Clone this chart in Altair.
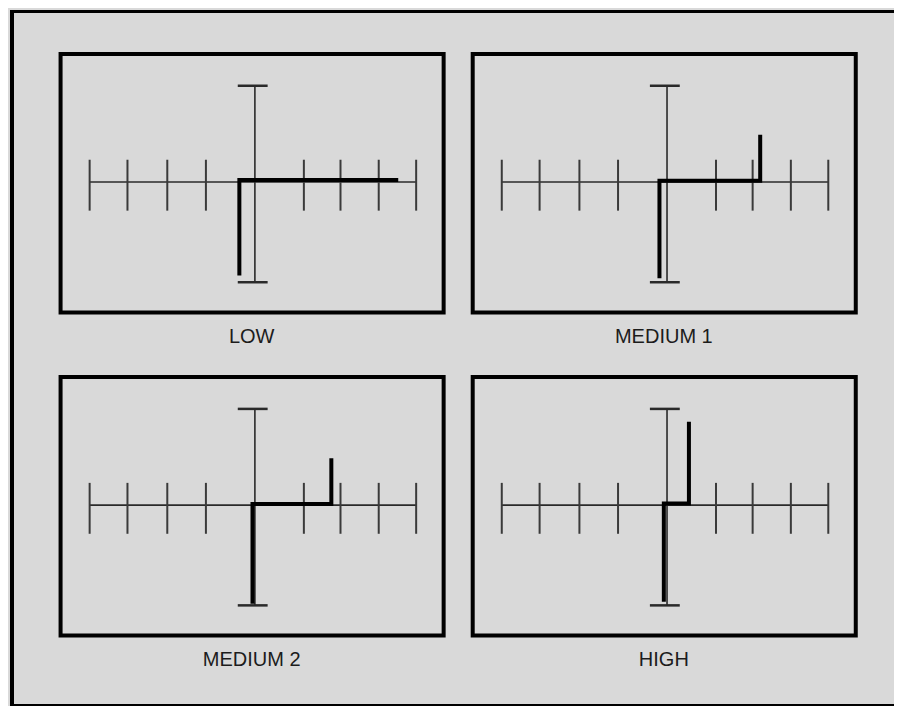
import altair as alt
import pandas as pd

# ---- data (local units of each screen: 0,0 = axis crossing) ----
panels = ["LOW", "MEDIUM 1", "MEDIUM 2", "HIGH"]
panel_col = [0, 1, 0, 1]
panel_row = [0, 0, 1, 1]

tick_x = [-4.15, -3.2, -2.2, -1.23, 1.23, 2.15, 3.11, 4.05]
tick_span = [-0.72, 0.56]
haxis_x = [-4.15, 4.05]
vaxis_y = [-2.52, 2.42]
cap_x = [-0.43, 0.32]
frame_x = [-4.88, 4.74]
frame_y = [-3.28, 3.22]
label_y = -3.9

trace_x = {
    "LOW": [-0.39, -0.39, 3.6],
    "MEDIUM 1": [-0.19, -0.19, 2.34, 2.34],
    "MEDIUM 2": [-0.06, -0.06, 1.92, 1.92],
    "HIGH": [-0.08, -0.08, 0.55, 0.55],
}
trace_y = {
    "LOW": [-2.35, 0.05, 0.05],
    "MEDIUM 1": [-2.42, 0.03, 0.03, 1.19],
    "MEDIUM 2": [-2.48, 0.03, 0.03, 1.18],
    "HIGH": [-2.43, 0.04, 0.04, 2.1],
}

# ---- layout constants ----
COL_STEP = 10.35
ROW_STEP = 8.125
W, H = 886, 698
UNIT = 40.0
X0, Y0 = -6.15, 4.325
XS = alt.Scale(domain=[X0, X0 + W / UNIT], nice=False, zero=False)
YS = alt.Scale(domain=[Y0 - H / UNIT, Y0], nice=False, zero=False)


def per_panel(rows):
    out = []
    for p, c, r in zip(panels, panel_col, panel_row):
        for row in rows(p):
            d = dict(row)
            d.update(panel=p, col=c, row=r)
            out.append(d)
    return pd.DataFrame(out)


def calc(ch, *pairs):
    kw = {}
    for name, field, kind in pairs:
        if kind == "x":
            kw[name] = f"datum.{field} + datum.col * {COL_STEP}"
        else:
            kw[name] = f"datum.{field} - datum.row * {ROW_STEP}"
    return ch.transform_calculate(**kw)


def X(f):
    return alt.X(f"{f}:Q", scale=XS, axis=None)


def Y(f):
    return alt.Y(f"{f}:Q", scale=YS, axis=None)


frames_df = per_panel(lambda p: [dict(x0=frame_x[0], x1=frame_x[1], y0=frame_y[0], y1=frame_y[1])])
frames = calc(alt.Chart(frames_df), ("gx", "x0", "x"), ("gx2", "x1", "x"),
              ("gy", "y0", "y"), ("gy2", "y1", "y")).mark_rect(
    filled=False, stroke="black", strokeWidth=4).encode(
    x=X("gx"), x2="gx2:Q", y=Y("gy"), y2="gy2:Q")

haxis_df = per_panel(lambda p: [dict(x0=haxis_x[0], x1=haxis_x[1], y=0.0)])
haxis = calc(alt.Chart(haxis_df), ("gx", "x0", "x"), ("gx2", "x1", "x"), ("gy", "y", "y")).mark_rule(
    color="#2a2a2a", strokeWidth=1.6).encode(x=X("gx"), x2="gx2:Q", y=Y("gy"))

ticks_df = per_panel(lambda p: [dict(x=t, y0=tick_span[0], y1=tick_span[1]) for t in tick_x])
ticks = calc(alt.Chart(ticks_df), ("gx", "x", "x"), ("gy", "y0", "y"), ("gy2", "y1", "y")).mark_rule(
    color="#3a3a3a", strokeWidth=2).encode(x=X("gx"), y=Y("gy"), y2="gy2:Q")

vaxis_df = per_panel(lambda p: [dict(x=0.0, y0=vaxis_y[0], y1=vaxis_y[1])])
vaxis = calc(alt.Chart(vaxis_df), ("gx", "x", "x"), ("gy", "y0", "y"), ("gy2", "y1", "y")).mark_rule(
    color="#2a2a2a", strokeWidth=1.6).encode(x=X("gx"), y=Y("gy"), y2="gy2:Q")

caps_df = per_panel(lambda p: [dict(x0=cap_x[0], x1=cap_x[1], y=v) for v in vaxis_y])
caps = calc(alt.Chart(caps_df), ("gx", "x0", "x"), ("gx2", "x1", "x"), ("gy", "y", "y")).mark_rule(
    color="#2a2a2a", strokeWidth=2.5).encode(x=X("gx"), x2="gx2:Q", y=Y("gy"))

trace_df = per_panel(lambda p: [dict(x=a, y=b, i=k) for k, (a, b) in enumerate(zip(trace_x[p], trace_y[p]))])
traces = calc(alt.Chart(trace_df), ("gx", "x", "x"), ("gy", "y", "y")).mark_line(
    color="black", strokeWidth=4, strokeJoin="miter", strokeCap="butt").encode(
    x=X("gx"), y=Y("gy"), order="i:Q", detail="panel:N")

labels_df = per_panel(lambda p: [dict(x=-0.08, y=label_y, text=p)])
labels = calc(alt.Chart(labels_df), ("gx", "x", "x"), ("gy", "y", "y")).mark_text(
    font="Liberation Sans", fontSize=20, color="#1c1c1c", align="center", baseline="middle").encode(
    x=X("gx"), y=Y("gy"), text="text:N")

one = pd.DataFrame({"k": [0]})
border_left = alt.Chart(one).mark_rule(color="black", strokeWidth=4).encode(
    x=alt.value(2), y=alt.value(0), y2=alt.value(H))
border_top = alt.Chart(one).mark_rule(color="black", strokeWidth=3).encode(
    x=alt.value(0), x2=alt.value(W), y=alt.value(1.5))
border_bottom = alt.Chart(one).mark_rule(color="black", strokeWidth=4).encode(
    x=alt.value(0), x2=alt.value(W), y=alt.value(H - 2))

chart = alt.layer(
    frames, haxis, ticks, vaxis, caps, traces, labels,
    border_left, border_top, border_bottom
).properties(
    width=W, height=H, padding=0, background="#d9d9d9",
    autosize=alt.AutoSizeParams(type="fit", contains="padding"),
).configure_view(stroke="transparent")

chart.save("out.html", embed_options={"renderer": "svg", "actions": False})
